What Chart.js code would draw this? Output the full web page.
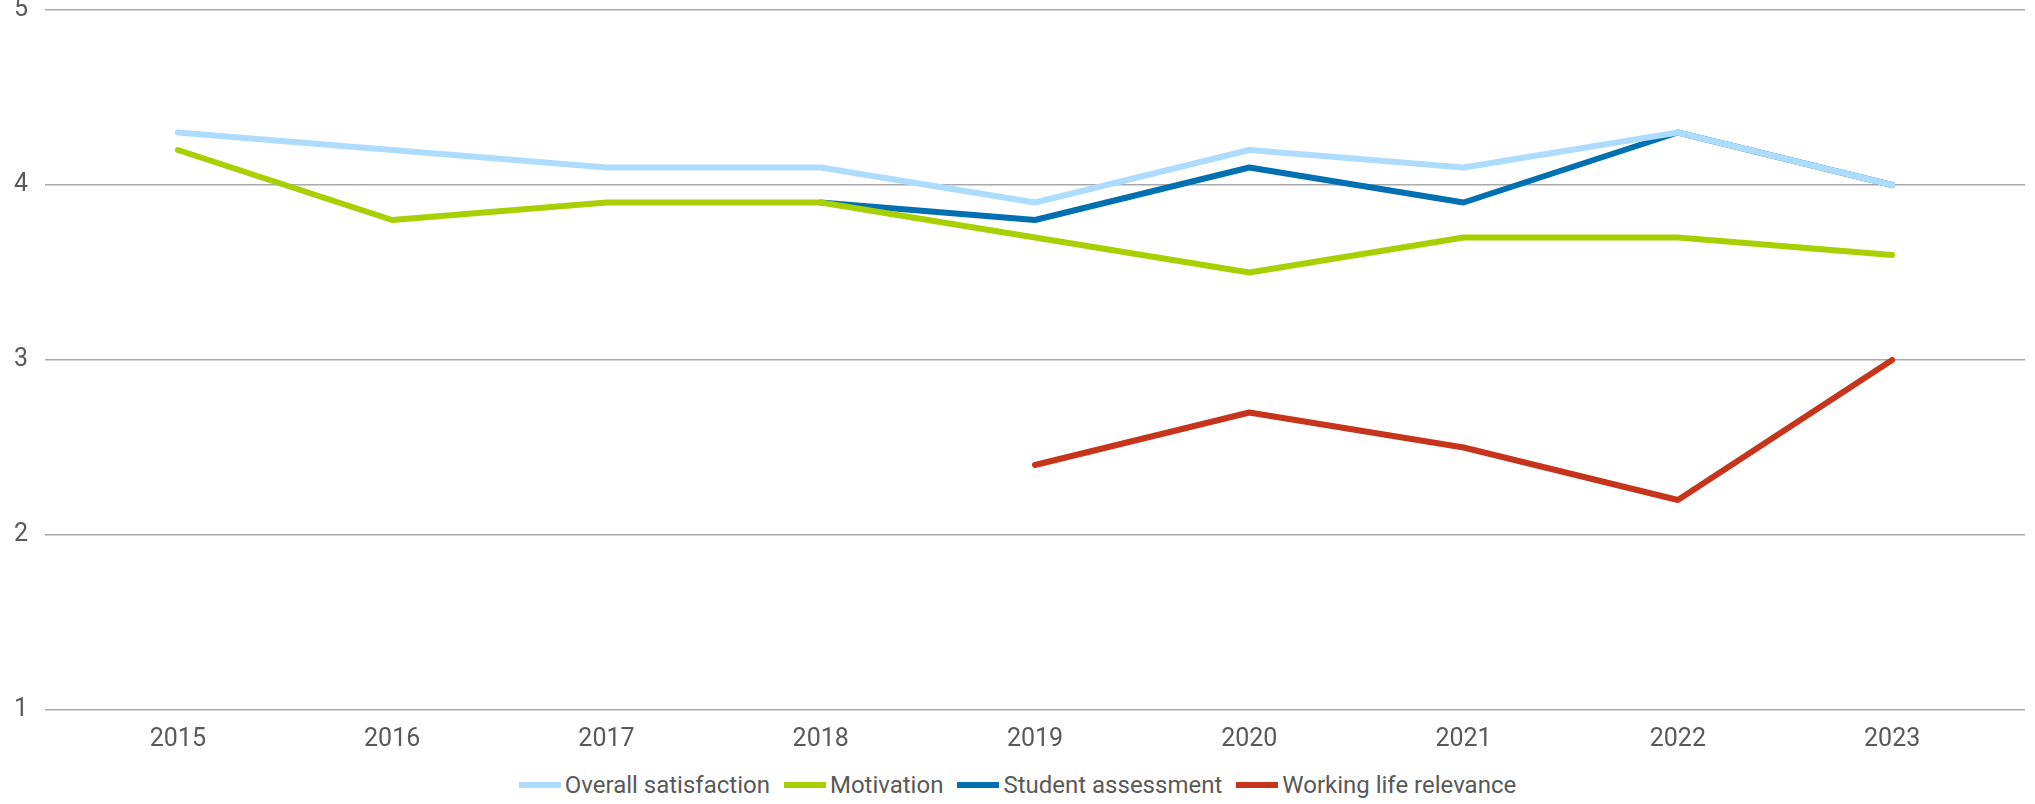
<!DOCTYPE html>
<html>
<head>
<meta charset="utf-8">
<script src="https://cdn.jsdelivr.net/npm/chart.js@4/dist/chart.umd.min.js"></script>
<style>
  html, body { margin: 0; padding: 0; background: #fff; }
  #wrap { position: relative; width: 2035px; height: 804px; }
  #chartBox { position: absolute; left: 0; top: 0; width: 2035px; height: 762px; }
  #legend {
    position: absolute; left: 0; top: 771px; width: 2035px; height: 28px;
    display: flex; justify-content: center; align-items: center;
    font-family: Roboto, sans-serif; font-size: 24px; color: #595959;
  }
  .item { display: flex; align-items: center; margin: 0 7px; }
  .swatch { width: 42px; height: 6px; margin-right: 4px; }
</style>
</head>
<body>
<div id="wrap">
  <div id="chartBox"><canvas id="trendChart"></canvas></div>
  <div id="legend"></div>
</div>
<script>
// data
const years = [2015, 2016, 2017, 2018, 2019, 2020, 2021, 2022, 2023];
const overallSatisfaction = [4.3, 4.2, 4.1, 4.1, 3.9, 4.2, 4.1, 4.3, 4.0];
const motivation = [4.2, 3.8, 3.9, 3.9, 3.7, 3.5, 3.7, 3.7, 3.6];
const studentAssessment = [null, null, null, 3.9, 3.8, 4.1, 3.9, 4.3, 4.0];
const workingLifeRelevance = [null, null, null, null, 2.4, 2.7, 2.5, 2.2, 3.0];
const yTicks = [1, 2, 3, 4, 5];

const seriesNames = ['Overall satisfaction', 'Motivation', 'Student assessment', 'Working life relevance'];
const seriesColors = ['#ADDCFE', '#A8D000', '#0070B0', '#C5341B'];
const seriesValues = [overallSatisfaction, motivation, studentAssessment, workingLifeRelevance];
const drawOrder = [1, 2, 3, 0]; // student assessment sits underneath

Chart.defaults.font.family = "Roboto, 'Noto Sans', sans-serif";
Chart.defaults.font.size = 25;
Chart.defaults.color = '#595959';

const datasets = seriesNames.map((name, i) => ({
  label: name,
  data: years.map((y, j) => ({ x: y, y: seriesValues[i][j] })),
  borderColor: seriesColors[i],
  backgroundColor: seriesColors[i],
  borderWidth: 6,
  borderCapStyle: 'round',
  borderJoinStyle: 'round',
  pointRadius: 0,
  pointHoverRadius: 0,
  spanGaps: false,
  tension: 0,
  order: drawOrder[i]
}));

new Chart(document.getElementById('trendChart'), {
  type: 'line',
  data: { datasets },
  options: {
    responsive: true,
    maintainAspectRatio: false,
    animation: false,
    layout: { padding: { left: 0, right: 10, top: 0, bottom: 0 } },
    plugins: {
      legend: { display: false }, // custom html legend below
      tooltip: { enabled: false }
    },
    scales: {
      x: {
        type: 'linear',
        min: 2014.38,
        max: 2023.62,
        afterBuildTicks: (scale) => { scale.ticks = years.map(v => ({ value: v })); },
        ticks: {
          padding: 7,
          maxRotation: 0,
          callback: (v) => String(v)
        },
        grid: { display: false },
        border: { display: false }
      },
      y: {
        min: 1,
        max: 5,
        afterBuildTicks: (scale) => { scale.ticks = yTicks.map(v => ({ value: v })); },
        afterFit: (scale) => { scale.width = 45; scale.paddingTop = 10; },
        ticks: { padding: 17 },
        grid: { color: '#A9A9A9', lineWidth: 1.4, drawTicks: false },
        border: { display: false }
      }
    }
  }
});

// legend
const legendEl = document.getElementById('legend');
seriesNames.forEach((name, i) => {
  const item = document.createElement('div');
  item.className = 'item';
  const sw = document.createElement('span');
  sw.className = 'swatch';
  sw.style.background = seriesColors[i];
  const txt = document.createElement('span');
  txt.textContent = name;
  item.appendChild(sw);
  item.appendChild(txt);
  legendEl.appendChild(item);
});
</script>
</body>
</html>
